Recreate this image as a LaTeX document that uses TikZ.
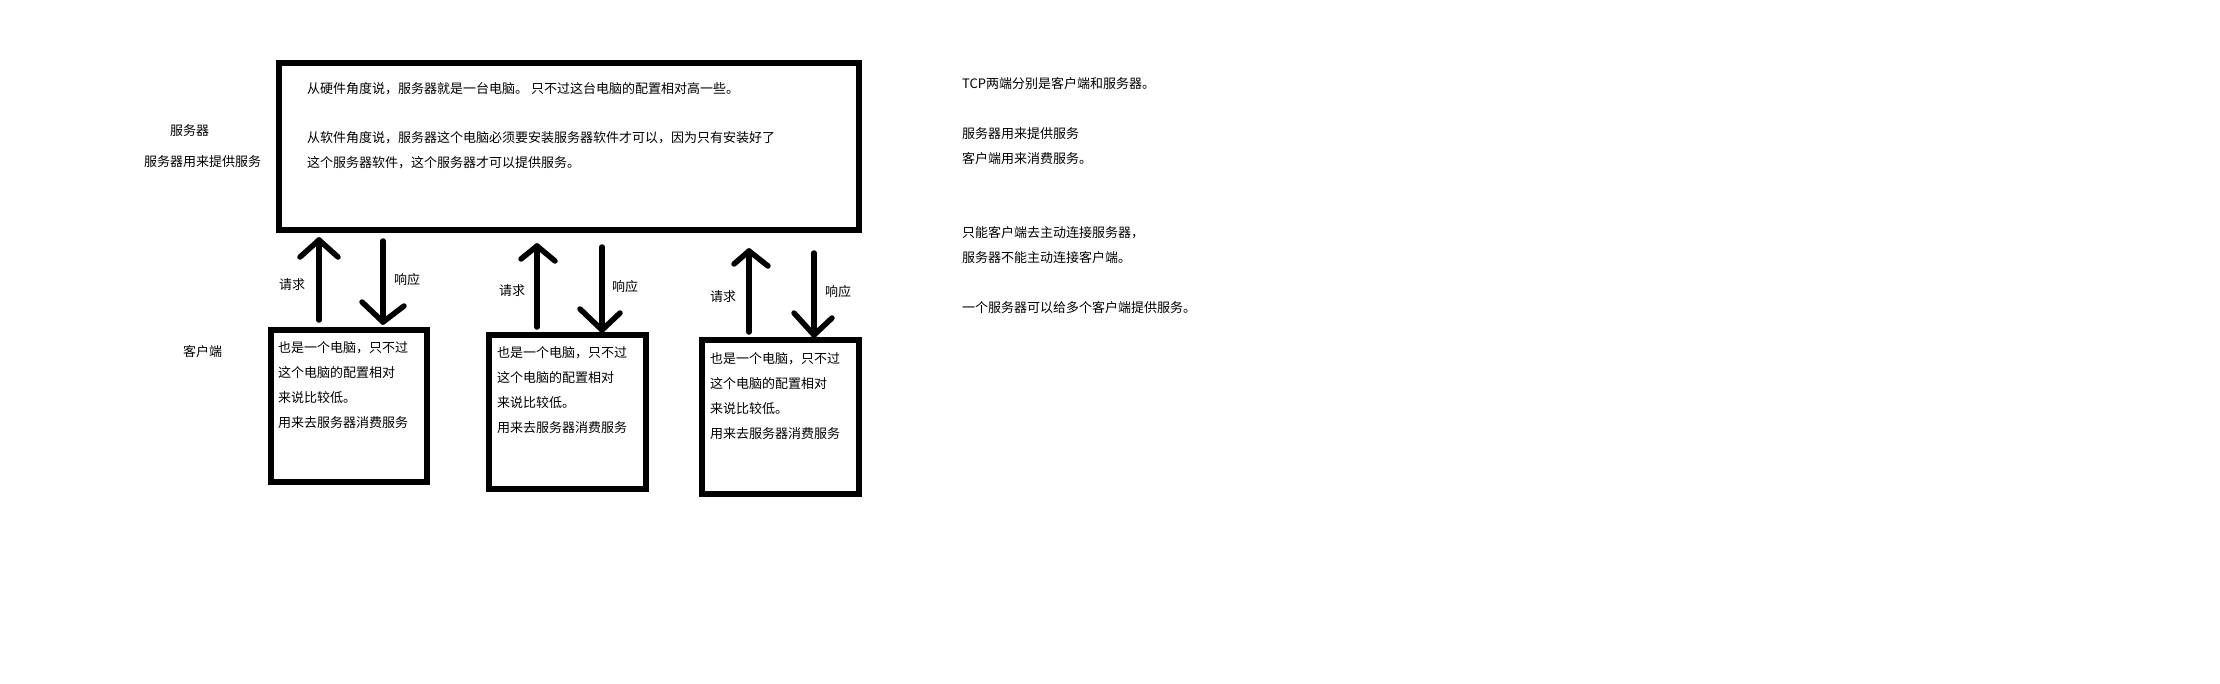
\documentclass[tikz,border=0pt]{standalone}
\usepackage{fontspec}
\setmainfont{Noto Sans CJK SC}
\begin{document}
\begin{tikzpicture}[x=1pt,y=-1pt,
  box/.style={draw=black,line width=6pt,inner sep=0pt,outer sep=0pt},
  txt/.style={anchor=west,inner sep=0pt,font=\fontsize{13}{16}\selectfont,text=black},
  lbl/.style={anchor=center,inner sep=0pt,font=\fontsize{13}{16}\selectfont,text=black},
  arr/.style={draw=black,line width=5.5pt,line cap=round,line join=round}]
\useasboundingbox[fill=white] (0,0) rectangle (2220,683);

% server box
\node[box,minimum width=579.5pt,minimum height=167pt] (server) at (568.75,146.5) {};
\node[txt] (s1) at (307,89) {从硬件角度说，服务器就是一台电脑。 只不过这台电脑的配置相对高一些。};
\node[txt] (s2) at (307,138) {从软件角度说，服务器这个电脑必须要安装服务器软件才可以，因为只有安装好了};
\node[txt] (s3) at (307,163) {这个服务器软件，这个服务器才可以提供服务。};

% left labels
\node[txt] (lserver) at (170,131) {服务器};
\node[txt] (lserver2) at (144,162) {服务器用来提供服务};
\node[txt] (lclient) at (183,352) {客户端};

% client boxes
\node[box,minimum width=156pt,minimum height=152.5pt] (c1) at (349,405.75) {};
\node[box,minimum width=156.5pt,minimum height=154.5pt] (c2) at (567.25,411.75) {};
\node[box,minimum width=157pt,minimum height=154pt] (c3) at (780.5,417) {};

\foreach \n/\x/\y in {1/278/348,2/497/353,3/710/358.5}{
  \node[txt] (c\n a) at (\x,\y) {也是一个电脑，只不过};
  \node[txt] (c\n b) at (\x,\y+25) {这个电脑的配置相对};
  \node[txt] (c\n c) at (\x,\y+50) {来说比较低。};
  \node[txt] (c\n d) at (\x,\y+75) {用来去服务器消费服务};
}

% arrow coordinates
\coordinate (u1s) at (319,320); \coordinate (u1t) at (319,240);
\coordinate (d1s) at (383,241); \coordinate (d1t) at (383,322);
\coordinate (u2s) at (537,327); \coordinate (u2t) at (537,246);
\coordinate (d2s) at (602,247); \coordinate (d2t) at (602,330);
\coordinate (u3s) at (749,332); \coordinate (u3t) at (749,251);
\coordinate (d3s) at (814,253); \coordinate (d3t) at (814,335);

% request arrows (up)
\draw[arr] (u1s) -- (u1t);
\draw[arr] ([shift={(-19,17)}]u1t) -- (u1t) -- ([shift={(19,17)}]u1t);
\draw[arr] (u2s) -- (u2t);
\draw[arr] ([shift={(-16,13)}]u2t) -- (u2t) -- ([shift={(18,15)}]u2t);
\draw[arr] (u3s) -- (u3t);
\draw[arr] ([shift={(-15,13)}]u3t) -- (u3t) -- ([shift={(19,15)}]u3t);

% response arrows (down)
\draw[arr] (d1s) -- (d1t);
\draw[arr] ([shift={(-21,-20)}]d1t) -- (d1t) -- ([shift={(21,-16)}]d1t);
\draw[arr] (d2s) -- (d2t);
\draw[arr] ([shift={(-22,-21)}]d2t) -- (d2t) -- ([shift={(18,-17)}]d2t);
\draw[arr] (d3s) -- (d3t);
\draw[arr] ([shift={(-20,-22)}]d3t) -- (d3t) -- ([shift={(18,-17)}]d3t);

% arrow labels
\node[lbl] (q1) at (292,285) {请求};
\node[lbl] (r1) at (407,280) {响应};
\node[lbl] (q2) at (512,291) {请求};
\node[lbl] (r2) at (625,287) {响应};
\node[lbl] (q3) at (723,297) {请求};
\node[lbl] (r3) at (838,292) {响应};

% right notes
\node[txt] (n1) at (962,84) {TCP两端分别是客户端和服务器。};
\node[txt] (n2) at (962,134) {服务器用来提供服务};
\node[txt] (n3) at (962,159) {客户端用来消费服务。};
\node[txt] (n4) at (962,233) {只能客户端去主动连接服务器，};
\node[txt] (n5) at (962,258) {服务器不能主动连接客户端。};
\node[txt] (n6) at (962,308) {一个服务器可以给多个客户端提供服务。};
\end{tikzpicture}
\end{document}
